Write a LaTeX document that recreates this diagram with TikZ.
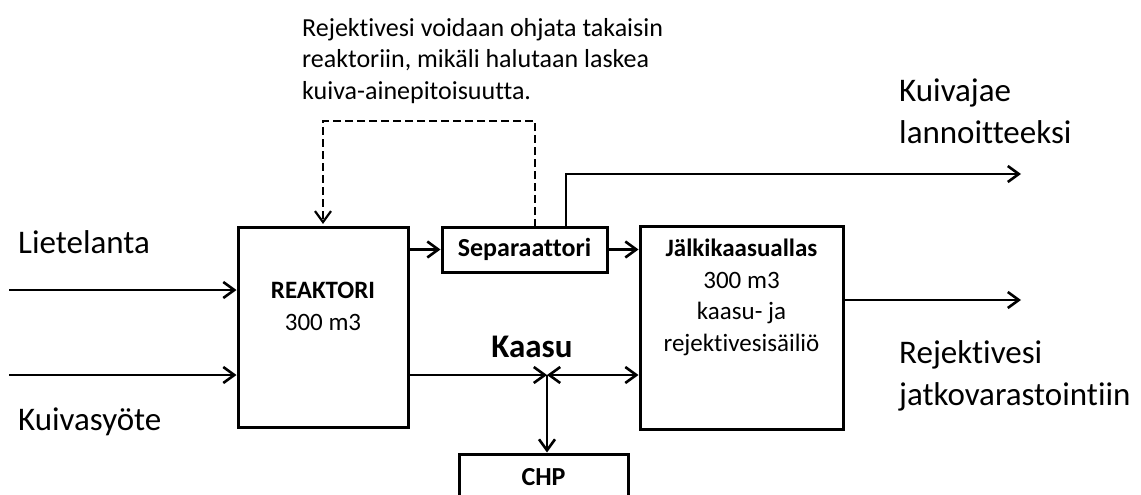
\documentclass[tikz,border=0pt]{standalone}
\usepackage{fontspec}
\setmainfont{Carlito}[Ligatures={NoCommon}]
\usetikzlibrary{arrows.meta}
\tikzset{
  box/.style={draw=black, line width=3pt, fill=white, inner sep=0pt},
  flow/.style={line width=2.6pt, -{Straight Barb[length=11pt,width=16pt,line width=2.6pt]}},
  dflow/.style={line width=2.2pt, dash pattern=on 8pt off 4pt, -{Straight Barb[length=11pt,width=16pt,line width=2.2pt,sep]}},
  bigtxt/.style={font=\fontsize{33}{42}\selectfont, align=left, inner sep=0pt},
  boxtxt/.style={font=\fontsize{25}{32}\selectfont, align=center, inner sep=0pt},
}
\begin{document}
\begin{tikzpicture}[x=1pt,y=-1pt]
\clip (0,0) rectangle (1141,495);
\fill[white] (0,0) rectangle (1141,495);
% boxes
\node[box, minimum width=170pt, minimum height=200pt] (reak) at (323,327) {};
\node[box, minimum width=165pt, minimum height=45pt] (sep) at (524.5,249.5) {};
\node[box, minimum width=203pt, minimum height=203pt] (jalki) at (741.5,327.5) {};
\node[box, minimum width=169pt, minimum height=70pt] (chp) at (543.5,489) {};
% box texts
\node[boxtxt] (reaktxt) at (323,306.5) {\textbf{REAKTORI}\\300 m3};
\node[boxtxt, font=\fontsize{26}{32}\selectfont\bfseries] (septxt) at (sep.center) {Separaattori};
\node[boxtxt, font=\fontsize{25}{31.7}\selectfont] (jalkitxt) at (741.5,297.5) {\textbf{Jälkikaasuallas}\\300 m3\\kaasu- ja\\rejektivesisäiliö};
\node[boxtxt, font=\fontsize{26}{32}\selectfont\bfseries] (chptxt) at (543.5,477) {CHP};
% labels
\node[bigtxt, anchor=west] (liete) at (18,242) {Lietelanta};
\node[bigtxt, anchor=west] (kuiva) at (18,422) {Kuivasyöte};
\node[bigtxt, anchor=west] (kuivajae) at (899,111) {Kuivajae\\lannoitteeksi};
\node[bigtxt, anchor=west] (rejekt) at (899,376) {Rejektivesi\\jatkovarastointiin};
\node[bigtxt, font=\fontsize{33}{42}\selectfont\bfseries] (kaasu) at (532,347) {Kaasu};
\node[bigtxt, font=\fontsize{26}{31.5}\selectfont, anchor=west] (note) at (302,61) {Rejektivesi voidaan ohjata takaisin\\reaktoriin, mikäli halutaan laskea\\kuiva-ainepitoisuutta.};
% coordinates
\coordinate (in1) at (9,290);
\coordinate (in2) at (9,375);
\coordinate (s1) at (566,227);
\coordinate (out1) at (1021,174);
\coordinate (out2) at (1021,300);
\coordinate (d1) at (535,227);
\coordinate (dtop) at (535,121);
\coordinate (j) at (547,375);
% connectors
\draw[flow] (in1) -- (in1 -| reak.west);
\draw[flow] (in2) -- (in2 -| reak.west);
\draw[flow] (reak.east |- sep.west) -- (sep.west);
\draw[flow] (sep.east) -- (sep.east -| jalki.west);
\draw[flow] (s1) |- (out1);
\draw[flow] (jalki.east |- out2) -- (out2);
\draw[dflow] (d1) -- (dtop) -| (reak.north);
\draw[flow] (reak.east |- j) -- (j);
\draw[flow, {Straight Barb[length=11pt,width=16pt,line width=2.6pt]}-{Straight Barb[length=11pt,width=16pt,line width=2.6pt]}] (j) -- (j -| jalki.west);
\draw[flow] (j) -- (j |- chp.north);
\end{tikzpicture}
\end{document}
